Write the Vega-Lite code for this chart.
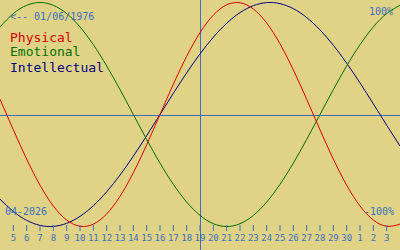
{
  "$schema": "https://vega.github.io/schema/vega-lite/v6.json",
  "width": 400,
  "height": 250,
  "padding": 0,
  "autosize": "none",
  "background": "#e0d386",
  "config": {"view": {"stroke": null}},
  "datasets": {
    "one": [{}],
    "bio": [
      {"i": 0, "P": 0.1362, "E": 0.7818, "I": -0.7557},
      {"i": 1, "P": -0.1362, "E": 0.9010, "I": -0.8660},
      {"i": 2, "P": -0.3984, "E": 0.9749, "I": -0.9450},
      {"i": 3, "P": -0.6311, "E": 1.0, "I": -0.9898},
      {"i": 4, "P": -0.8170, "E": 0.9749, "I": -0.9989},
      {"i": 5, "P": -0.9423, "E": 0.9010, "I": -0.9718},
      {"i": 6, "P": -0.9977, "E": 0.7818, "I": -0.9096},
      {"i": 7, "P": -0.9791, "E": 0.6235, "I": -0.8146},
      {"i": 8, "P": -0.8879, "E": 0.4339, "I": -0.6901},
      {"i": 9, "P": -0.7308, "E": 0.2225, "I": -0.5406},
      {"i": 10, "P": -0.5196, "E": 0.0, "I": -0.3717},
      {"i": 11, "P": -0.2698, "E": -0.2225, "I": -0.1893},
      {"i": 12, "P": 0.0, "E": -0.4339, "I": 0.0},
      {"i": 13, "P": 0.2698, "E": -0.6235, "I": 0.1893},
      {"i": 14, "P": 0.5196, "E": -0.7818, "I": 0.3717},
      {"i": 15, "P": 0.7308, "E": -0.9010, "I": 0.5406},
      {"i": 16, "P": 0.8879, "E": -0.9749, "I": 0.6901},
      {"i": 17, "P": 0.9791, "E": -1.0, "I": 0.8146},
      {"i": 18, "P": 0.9977, "E": -0.9749, "I": 0.9096},
      {"i": 19, "P": 0.9423, "E": -0.9010, "I": 0.9718},
      {"i": 20, "P": 0.8170, "E": -0.7818, "I": 0.9989},
      {"i": 21, "P": 0.6311, "E": -0.6235, "I": 0.9898},
      {"i": 22, "P": 0.3984, "E": -0.4339, "I": 0.9450},
      {"i": 23, "P": 0.1362, "E": -0.2225, "I": 0.8660},
      {"i": 24, "P": -0.1362, "E": 0.0, "I": 0.7557},
      {"i": 25, "P": -0.3984, "E": 0.2225, "I": 0.6182},
      {"i": 26, "P": -0.6311, "E": 0.4339, "I": 0.4582},
      {"i": 27, "P": -0.8170, "E": 0.6235, "I": 0.2817},
      {"i": 28, "P": -0.9423, "E": 0.7818, "I": 0.0951},
      {"i": 29, "P": -0.9977, "E": 0.9010, "I": -0.0951},
      {"i": 30, "P": -0.9791, "E": 0.9749, "I": -0.2817}
    ],
    "days": [
      {"i": 1, "label": "5"}, {"i": 2, "label": "6"}, {"i": 3, "label": "7"}, {"i": 4, "label": "8"},
      {"i": 5, "label": "9"}, {"i": 6, "label": "10"}, {"i": 7, "label": "11"}, {"i": 8, "label": "12"},
      {"i": 9, "label": "13"}, {"i": 10, "label": "14"}, {"i": 11, "label": "15"}, {"i": 12, "label": "16"},
      {"i": 13, "label": "17"}, {"i": 14, "label": "18"}, {"i": 15, "label": "19"}, {"i": 16, "label": "20"},
      {"i": 17, "label": "21"}, {"i": 18, "label": "22"}, {"i": 19, "label": "23"}, {"i": 20, "label": "24"},
      {"i": 21, "label": "25"}, {"i": 22, "label": "26"}, {"i": 23, "label": "27"}, {"i": 24, "label": "28"},
      {"i": 25, "label": "29"}, {"i": 26, "label": "30"}, {"i": 27, "label": "1"}, {"i": 28, "label": "2"},
      {"i": 29, "label": "3"}
    ]
  },
  "layer": [
    {
      "data": {"name": "one"},
      "mark": {"type": "rule", "color": "#3a6fc0", "strokeWidth": 1},
      "encoding": {"y": {"datum": -0.0089, "type": "quantitative", "axis": null, "scale": {"domain": [-1.2098, 1.0223], "nice": false, "zero": false}}}
    },
    {
      "data": {"name": "one"},
      "mark": {"type": "rule", "color": "#3a6fc0", "strokeWidth": 1},
      "encoding": {"x": {"datum": 15.0375, "type": "quantitative", "axis": null, "scale": {"domain": [0, 30], "nice": false, "zero": false}}}
    },
    {
      "data": {"name": "bio"},
      "mark": {"type": "line", "color": "#000080", "strokeWidth": 1, "interpolate": "natural"},
      "encoding": {
        "x": {"field": "i", "type": "quantitative", "axis": null, "scale": {"domain": [0, 30], "nice": false, "zero": false}},
        "y": {"field": "I", "type": "quantitative", "axis": null, "scale": {"domain": [-1.2098, 1.0223], "nice": false, "zero": false}}
      }
    },
    {
      "data": {"name": "bio"},
      "mark": {"type": "line", "color": "#007000", "strokeWidth": 1, "interpolate": "natural"},
      "encoding": {
        "x": {"field": "i", "type": "quantitative", "axis": null, "scale": {"domain": [0, 30], "nice": false, "zero": false}},
        "y": {"field": "E", "type": "quantitative", "axis": null, "scale": {"domain": [-1.2098, 1.0223], "nice": false, "zero": false}}
      }
    },
    {
      "data": {"name": "bio"},
      "mark": {"type": "line", "color": "#e00000", "strokeWidth": 1, "interpolate": "natural"},
      "encoding": {
        "x": {"field": "i", "type": "quantitative", "axis": null, "scale": {"domain": [0, 30], "nice": false, "zero": false}},
        "y": {"field": "P", "type": "quantitative", "axis": null, "scale": {"domain": [-1.2098, 1.0223], "nice": false, "zero": false}}
      }
    },
    {
      "data": {"name": "days"},
      "mark": {"type": "rule", "color": "#3a6fc0", "strokeWidth": 1},
      "encoding": {
        "x": {"field": "i", "type": "quantitative", "axis": null, "scale": {"domain": [0, 30], "nice": false, "zero": false}},
        "y": {"datum": -0.9866, "type": "quantitative", "axis": null, "scale": {"domain": [-1.2098, 1.0223], "nice": false, "zero": false}},
        "y2": {"datum": -1.040}
      }
    },
    {
      "data": {"name": "days"},
      "mark": {"type": "text", "color": "#3a6fc0", "font": "DejaVu Sans Mono", "fontSize": 9, "align": "center", "baseline": "middle"},
      "encoding": {
        "x": {"field": "i", "type": "quantitative", "axis": null, "scale": {"domain": [0, 30], "nice": false, "zero": false}},
        "y": {"datum": -1.1027, "type": "quantitative", "axis": null, "scale": {"domain": [-1.2098, 1.0223], "nice": false, "zero": false}},
        "text": {"field": "label"}
      }
    },
    {
      "data": {"name": "one"},
      "mark": {"type": "text", "color": "#3a6fc0", "font": "DejaVu Sans Mono", "fontSize": 10, "align": "left", "baseline": "middle", "text": "<-- 01/06/1976"},
      "encoding": {"x": {"datum": 0.75, "type": "quantitative"}, "y": {"datum": 0.8705, "type": "quantitative"}}
    },
    {
      "data": {"name": "one"},
      "mark": {"type": "text", "color": "#d80000", "font": "DejaVu Sans Mono", "fontSize": 13, "align": "left", "baseline": "middle", "text": "Physical"},
      "encoding": {"x": {"datum": 0.75, "type": "quantitative"}, "y": {"datum": 0.683, "type": "quantitative"}}
    },
    {
      "data": {"name": "one"},
      "mark": {"type": "text", "color": "#007000", "font": "DejaVu Sans Mono", "fontSize": 13, "align": "left", "baseline": "middle", "text": "Emotional"},
      "encoding": {"x": {"datum": 0.75, "type": "quantitative"}, "y": {"datum": 0.5536, "type": "quantitative"}}
    },
    {
      "data": {"name": "one"},
      "mark": {"type": "text", "color": "#000080", "font": "DejaVu Sans Mono", "fontSize": 13, "align": "left", "baseline": "middle", "text": "Intellectual"},
      "encoding": {"x": {"datum": 0.75, "type": "quantitative"}, "y": {"datum": 0.415, "type": "quantitative"}}
    },
    {
      "data": {"name": "one"},
      "mark": {"type": "text", "color": "#3a6fc0", "font": "DejaVu Sans Mono", "fontSize": 10, "align": "right", "baseline": "middle", "text": "100%"},
      "encoding": {"x": {"datum": 29.475, "type": "quantitative"}, "y": {"datum": 0.918, "type": "quantitative"}}
    },
    {
      "data": {"name": "one"},
      "mark": {"type": "text", "color": "#3a6fc0", "font": "DejaVu Sans Mono", "fontSize": 10, "align": "right", "baseline": "middle", "text": "-100%"},
      "encoding": {"x": {"datum": 29.55, "type": "quantitative"}, "y": {"datum": -0.8705, "type": "quantitative"}}
    },
    {
      "data": {"name": "one"},
      "mark": {"type": "text", "color": "#3a6fc0", "font": "DejaVu Sans Mono", "fontSize": 10, "align": "left", "baseline": "middle", "text": "04-2026"},
      "encoding": {"x": {"datum": 0.375, "type": "quantitative"}, "y": {"datum": -0.8705, "type": "quantitative"}}
    }
  ]
}
